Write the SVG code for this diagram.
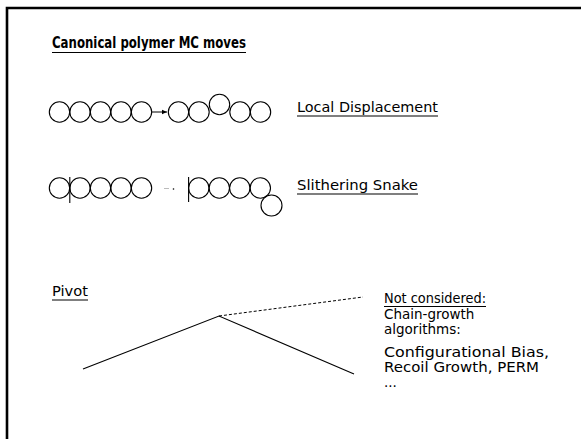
<svg xmlns="http://www.w3.org/2000/svg" width="581" height="439" viewBox="0 0 581 439">
<style>
text{font-family:"DejaVu Sans","Liberation Sans",sans-serif;fill:#000}
.t{font-size:16px;font-weight:bold}
.l{font-size:13.5px}
.b{fill:none;stroke:#000;stroke-width:1.1}
.ul{stroke:#000;stroke-width:1.2}
.ln{stroke:#000;stroke-width:1.1;fill:none}
</style>
<defs>
<marker id="ah" markerWidth="6" markerHeight="6" refX="5" refY="3" orient="auto" markerUnits="userSpaceOnUse">
<path d="M0,0.8 L5,3 L0,5.2 Z" fill="#000"/>
</marker>
</defs>
<rect width="581" height="439" fill="#fff"/>
<g id="frame">
<path d="M7,439 V8 H581" fill="none" stroke="#000" stroke-width="2.6"/>
</g>
<g id="title">
<text class="t" x="52" y="48" textLength="194" lengthAdjust="spacingAndGlyphs">Canonical polymer MC moves</text>
<line class="ul" x1="52" y1="52.5" x2="246" y2="52.5"/>
</g>
<g id="local-before">
<circle class="b" cx="59.5" cy="112" r="10.2"/>
<circle class="b" cx="80" cy="112" r="10.2"/>
<circle class="b" cx="100.5" cy="112" r="10.2"/>
<circle class="b" cx="121" cy="112" r="10.2"/>
<circle class="b" cx="141.5" cy="112" r="10.2"/>
</g>
<g id="local-after">
<circle class="b" cx="178.5" cy="112" r="10.2"/>
<circle class="b" cx="199" cy="112" r="10.2"/>
<circle class="b" cx="219.5" cy="104.5" r="10.2"/>
<circle class="b" cx="240" cy="112" r="10.2"/>
<circle class="b" cx="260.5" cy="112" r="10.2"/>
</g>
<g id="local-label">
<text class="l" x="297" y="112" textLength="141" lengthAdjust="spacingAndGlyphs">Local Displacement</text>
<line class="ul" x1="297" y1="116" x2="438" y2="116"/>
</g>
<g id="snake-before">
<circle class="b" cx="59.5" cy="188" r="10.2"/>
<circle class="b" cx="80" cy="188" r="10.2"/>
<circle class="b" cx="100.5" cy="188" r="10.2"/>
<circle class="b" cx="121" cy="188" r="10.2"/>
<circle class="b" cx="141.5" cy="188" r="10.2"/>
<line class="ln" x1="69.8" y1="177" x2="69.8" y2="203"/>
</g>
<g id="snake-after">
<circle class="b" cx="198.8" cy="188" r="10.2"/>
<circle class="b" cx="219.3" cy="188" r="10.2"/>
<circle class="b" cx="239.8" cy="188" r="10.2"/>
<circle class="b" cx="260.3" cy="188" r="10.2"/>
<circle class="b" cx="271.5" cy="205.5" r="10.5"/>
<line class="ln" x1="188.6" y1="177" x2="188.6" y2="202"/>
</g>
<g id="snake-label">
<text class="l" x="297" y="190" textLength="121" lengthAdjust="spacingAndGlyphs">Slithering Snake</text>
<line class="ul" x1="297" y1="194" x2="418" y2="194"/>
</g>
<g id="connectors">
<line x1="152" y1="112" x2="167" y2="112" stroke="#000" stroke-width="1" marker-end="url(#ah)"/>
<line x1="164" y1="188.5" x2="169" y2="188.5" stroke="#bbb" stroke-width="1"/>
<circle cx="173.5" cy="189" r="0.8" fill="#000"/>
</g>
<g id="pivot">
<text class="l" x="52" y="296" textLength="36" lengthAdjust="spacingAndGlyphs">Pivot</text>
<line class="ul" x1="52" y1="300" x2="88" y2="300"/>
<polyline class="ln" points="83,369 219,316 354,374"/>
<line x1="219" y1="316" x2="363" y2="297" stroke="#000" stroke-width="1" stroke-dasharray="3,2"/>
</g>
<g id="note">
<text class="l" x="384" y="303" textLength="102" lengthAdjust="spacingAndGlyphs">Not considered:</text>
<line class="ul" x1="384" y1="306.5" x2="486" y2="306.5"/>
<text class="l" x="384" y="318.5">Chain-growth</text>
<text class="l" x="384" y="333.5">algorithms:</text>
<text class="l" x="384" y="357" textLength="165" lengthAdjust="spacingAndGlyphs">Configurational Bias,</text>
<text class="l" x="384" y="372" textLength="155" lengthAdjust="spacingAndGlyphs">Recoil Growth, PERM</text>
<text class="l" x="384" y="387">...</text>
</g>
</svg>
